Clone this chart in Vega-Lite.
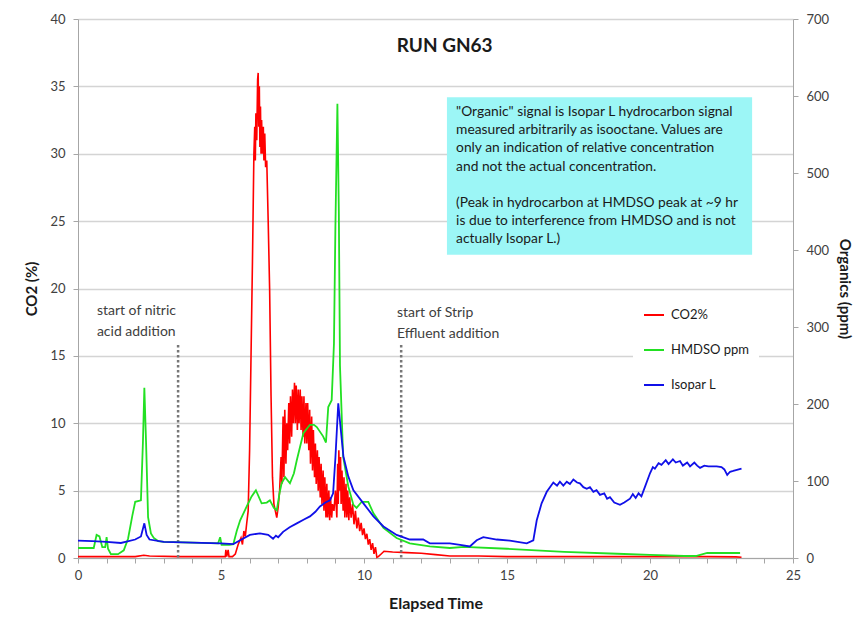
{
  "$schema": "https://vega.github.io/schema/vega-lite/v6.json",
  "width": 715,
  "height": 539,
  "autosize": {"type": "none"},
  "padding": {"left": 78, "top": 19, "right": 61, "bottom": 64},
  "background": "white",
  "config": {
    "view": {"stroke": null},
    "font": "Lato",
    "axis": {"labelFont": "Lato", "titleFont": "Lato", "labelColor": "#404040", "titleColor": "#1a1a1a", "domainColor": "#a6a6a6", "tickColor": "#a6a6a6", "labelFontSize": 13, "titleFontSize": 15, "titleFontWeight": "bold"},
    "axisX": {"labelOverlap": false, "labelFlush": false, "grid": false, "tickSize": 5, "labelPadding": 6, "titlePadding": 13, "titleFontSize": 16}
  },
  "datasets": {
    "one": [{}],
    "series": [
      {"s":"CO2%","t":0,"v":0.1},{"s":"CO2%","t":1.0,"v":0.1},{"s":"CO2%","t":2.0,"v":0.1},{"s":"CO2%","t":2.3,"v":0.2},{"s":"CO2%","t":2.5,"v":0.15},{"s":"CO2%","t":3.5,"v":0.1},{"s":"CO2%","t":5.0,"v":0.1},{"s":"CO2%","t":5.15,"v":0.1},{"s":"CO2%","t":5.17,"v":0.6},{"s":"CO2%","t":5.2,"v":0.1},{"s":"CO2%","t":5.25,"v":0.6},{"s":"CO2%","t":5.28,"v":0.1},{"s":"CO2%","t":5.4,"v":0.1},{"s":"CO2%","t":5.5,"v":0.3},{"s":"CO2%","t":5.6,"v":1.0},{"s":"CO2%","t":5.7,"v":1.5},{"s":"CO2%","t":5.75,"v":1.0},{"s":"CO2%","t":5.8,"v":2.0},{"s":"CO2%","t":5.85,"v":1.6},{"s":"CO2%","t":5.9,"v":2.6},{"s":"CO2%","t":5.95,"v":3.5},{"s":"CO2%","t":6.0,"v":8},{"s":"CO2%","t":6.05,"v":15},{"s":"CO2%","t":6.1,"v":22},{"s":"CO2%","t":6.15,"v":30},{"s":"CO2%","t":6.18,"v":32},{"s":"CO2%","t":6.2,"v":29.5},{"s":"CO2%","t":6.22,"v":33},{"s":"CO2%","t":6.25,"v":31},{"s":"CO2%","t":6.28,"v":35.5},{"s":"CO2%","t":6.3,"v":36},{"s":"CO2%","t":6.32,"v":32},{"s":"CO2%","t":6.34,"v":35},{"s":"CO2%","t":6.36,"v":30.5},{"s":"CO2%","t":6.38,"v":33.5},{"s":"CO2%","t":6.4,"v":30},{"s":"CO2%","t":6.42,"v":32.5},{"s":"CO2%","t":6.45,"v":30},{"s":"CO2%","t":6.48,"v":32},{"s":"CO2%","t":6.5,"v":29.5},{"s":"CO2%","t":6.53,"v":31.5},{"s":"CO2%","t":6.56,"v":29},{"s":"CO2%","t":6.6,"v":29.5},{"s":"CO2%","t":6.65,"v":25},{"s":"CO2%","t":6.7,"v":20},{"s":"CO2%","t":6.75,"v":12},{"s":"CO2%","t":6.8,"v":6},{"s":"CO2%","t":6.85,"v":4},{"s":"CO2%","t":6.9,"v":3.5},{"s":"CO2%","t":6.95,"v":3.0},{"s":"CO2%","t":7.0,"v":3.8},{"s":"CO2%","t":7.05,"v":5},{"s":"CO2%","t":7.1,"v":7.5},{"s":"CO2%","t":7.13,"v":5.5},{"s":"CO2%","t":7.17,"v":10.5},{"s":"CO2%","t":7.2,"v":6},{"s":"CO2%","t":7.23,"v":11},{"s":"CO2%","t":7.27,"v":7},{"s":"CO2%","t":7.3,"v":10},{"s":"CO2%","t":7.33,"v":8},{"s":"CO2%","t":7.37,"v":11.5},{"s":"CO2%","t":7.4,"v":8.5},{"s":"CO2%","t":7.43,"v":12},{"s":"CO2%","t":7.47,"v":9},{"s":"CO2%","t":7.5,"v":12.5},{"s":"CO2%","t":7.53,"v":10},{"s":"CO2%","t":7.57,"v":13},{"s":"CO2%","t":7.6,"v":10},{"s":"CO2%","t":7.63,"v":12.8},{"s":"CO2%","t":7.67,"v":9.5},{"s":"CO2%","t":7.7,"v":12.5},{"s":"CO2%","t":7.73,"v":10},{"s":"CO2%","t":7.77,"v":12.5},{"s":"CO2%","t":7.8,"v":9.5},{"s":"CO2%","t":7.83,"v":12},{"s":"CO2%","t":7.87,"v":9},{"s":"CO2%","t":7.9,"v":12},{"s":"CO2%","t":7.93,"v":8.5},{"s":"CO2%","t":7.97,"v":11.5},{"s":"CO2%","t":8.0,"v":8.5},{"s":"CO2%","t":8.03,"v":11.5},{"s":"CO2%","t":8.07,"v":8},{"s":"CO2%","t":8.1,"v":11},{"s":"CO2%","t":8.13,"v":7},{"s":"CO2%","t":8.17,"v":10.5},{"s":"CO2%","t":8.2,"v":6.5},{"s":"CO2%","t":8.23,"v":9.5},{"s":"CO2%","t":8.27,"v":6},{"s":"CO2%","t":8.3,"v":8.5},{"s":"CO2%","t":8.33,"v":5.5},{"s":"CO2%","t":8.37,"v":8},{"s":"CO2%","t":8.4,"v":5},{"s":"CO2%","t":8.43,"v":7.5},{"s":"CO2%","t":8.47,"v":4.5},{"s":"CO2%","t":8.5,"v":7},{"s":"CO2%","t":8.53,"v":4},{"s":"CO2%","t":8.57,"v":6.5},{"s":"CO2%","t":8.6,"v":3.5},{"s":"CO2%","t":8.63,"v":6},{"s":"CO2%","t":8.67,"v":3},{"s":"CO2%","t":8.7,"v":5.5},{"s":"CO2%","t":8.73,"v":3},{"s":"CO2%","t":8.77,"v":5},{"s":"CO2%","t":8.8,"v":2.8},{"s":"CO2%","t":8.83,"v":4.5},{"s":"CO2%","t":8.87,"v":3},{"s":"CO2%","t":8.9,"v":4},{"s":"CO2%","t":8.95,"v":3.5},{"s":"CO2%","t":9.0,"v":5},{"s":"CO2%","t":9.05,"v":3},{"s":"CO2%","t":9.08,"v":7},{"s":"CO2%","t":9.1,"v":4},{"s":"CO2%","t":9.12,"v":8},{"s":"CO2%","t":9.15,"v":5},{"s":"CO2%","t":9.18,"v":7.5},{"s":"CO2%","t":9.2,"v":4},{"s":"CO2%","t":9.23,"v":6.5},{"s":"CO2%","t":9.27,"v":3.5},{"s":"CO2%","t":9.3,"v":6},{"s":"CO2%","t":9.33,"v":3},{"s":"CO2%","t":9.37,"v":5.5},{"s":"CO2%","t":9.4,"v":3},{"s":"CO2%","t":9.43,"v":5},{"s":"CO2%","t":9.47,"v":2.8},{"s":"CO2%","t":9.5,"v":4.5},{"s":"CO2%","t":9.55,"v":3},{"s":"CO2%","t":9.6,"v":4},{"s":"CO2%","t":9.65,"v":2.5},{"s":"CO2%","t":9.7,"v":3.5},{"s":"CO2%","t":9.75,"v":2.2},{"s":"CO2%","t":9.8,"v":3},{"s":"CO2%","t":9.85,"v":2},{"s":"CO2%","t":9.9,"v":2.6},{"s":"CO2%","t":9.95,"v":1.7},{"s":"CO2%","t":10.0,"v":2.2},{"s":"CO2%","t":10.05,"v":1.4},{"s":"CO2%","t":10.1,"v":1.8},{"s":"CO2%","t":10.15,"v":1.0},{"s":"CO2%","t":10.2,"v":1.4},{"s":"CO2%","t":10.25,"v":0.6},{"s":"CO2%","t":10.3,"v":1.1},{"s":"CO2%","t":10.35,"v":0.3},{"s":"CO2%","t":10.4,"v":0.8},{"s":"CO2%","t":10.45,"v":0.05},{"s":"CO2%","t":10.5,"v":0.1},{"s":"CO2%","t":10.6,"v":0.3},{"s":"CO2%","t":10.7,"v":0.5},{"s":"CO2%","t":11.0,"v":0.45},{"s":"CO2%","t":11.5,"v":0.4},{"s":"CO2%","t":12.0,"v":0.35},{"s":"CO2%","t":12.5,"v":0.25},{"s":"CO2%","t":13.0,"v":0.15},{"s":"CO2%","t":14.0,"v":0.15},{"s":"CO2%","t":15.0,"v":0.1},{"s":"CO2%","t":17.0,"v":0.1},{"s":"CO2%","t":20.0,"v":0.1},{"s":"CO2%","t":22.0,"v":0.1},{"s":"CO2%","t":23.0,"v":0.08},{"s":"CO2%","t":23.2,"v":0.05},
      {"s":"HMDSO ppm","t":0,"v":13},{"s":"HMDSO ppm","t":0.55,"v":13},{"s":"HMDSO ppm","t":0.65,"v":30},{"s":"HMDSO ppm","t":0.75,"v":28},{"s":"HMDSO ppm","t":0.85,"v":14},{"s":"HMDSO ppm","t":0.95,"v":14},{"s":"HMDSO ppm","t":1.0,"v":27},{"s":"HMDSO ppm","t":1.05,"v":12},{"s":"HMDSO ppm","t":1.15,"v":5},{"s":"HMDSO ppm","t":1.4,"v":5},{"s":"HMDSO ppm","t":1.6,"v":10},{"s":"HMDSO ppm","t":1.75,"v":25},{"s":"HMDSO ppm","t":1.9,"v":55},{"s":"HMDSO ppm","t":2.0,"v":73},{"s":"HMDSO ppm","t":2.2,"v":75},{"s":"HMDSO ppm","t":2.27,"v":150},{"s":"HMDSO ppm","t":2.32,"v":221},{"s":"HMDSO ppm","t":2.38,"v":150},{"s":"HMDSO ppm","t":2.45,"v":53},{"s":"HMDSO ppm","t":2.55,"v":32},{"s":"HMDSO ppm","t":2.65,"v":26},{"s":"HMDSO ppm","t":2.8,"v":22},{"s":"HMDSO ppm","t":3.0,"v":21},{"s":"HMDSO ppm","t":4.0,"v":20},{"s":"HMDSO ppm","t":4.9,"v":19},{"s":"HMDSO ppm","t":4.97,"v":27},{"s":"HMDSO ppm","t":5.02,"v":17},{"s":"HMDSO ppm","t":5.3,"v":17},{"s":"HMDSO ppm","t":5.43,"v":18},{"s":"HMDSO ppm","t":5.55,"v":35},{"s":"HMDSO ppm","t":5.67,"v":49},{"s":"HMDSO ppm","t":5.9,"v":67},{"s":"HMDSO ppm","t":6.07,"v":80},{"s":"HMDSO ppm","t":6.22,"v":88},{"s":"HMDSO ppm","t":6.42,"v":71},{"s":"HMDSO ppm","t":6.6,"v":72},{"s":"HMDSO ppm","t":6.71,"v":75},{"s":"HMDSO ppm","t":6.85,"v":65},{"s":"HMDSO ppm","t":6.95,"v":62},{"s":"HMDSO ppm","t":7.05,"v":85},{"s":"HMDSO ppm","t":7.12,"v":97},{"s":"HMDSO ppm","t":7.24,"v":105},{"s":"HMDSO ppm","t":7.41,"v":97},{"s":"HMDSO ppm","t":7.55,"v":110},{"s":"HMDSO ppm","t":7.65,"v":127},{"s":"HMDSO ppm","t":7.88,"v":162},{"s":"HMDSO ppm","t":8.11,"v":173},{"s":"HMDSO ppm","t":8.25,"v":173},{"s":"HMDSO ppm","t":8.35,"v":170},{"s":"HMDSO ppm","t":8.57,"v":158},{"s":"HMDSO ppm","t":8.67,"v":150},{"s":"HMDSO ppm","t":8.75,"v":196},{"s":"HMDSO ppm","t":8.87,"v":205},{"s":"HMDSO ppm","t":8.95,"v":279},{"s":"HMDSO ppm","t":9.0,"v":430},{"s":"HMDSO ppm","t":9.07,"v":590},{"s":"HMDSO ppm","t":9.12,"v":450},{"s":"HMDSO ppm","t":9.16,"v":250},{"s":"HMDSO ppm","t":9.27,"v":132},{"s":"HMDSO ppm","t":9.45,"v":93},{"s":"HMDSO ppm","t":9.63,"v":69},{"s":"HMDSO ppm","t":9.74,"v":65},{"s":"HMDSO ppm","t":9.92,"v":73},{"s":"HMDSO ppm","t":10.15,"v":73},{"s":"HMDSO ppm","t":10.33,"v":58},{"s":"HMDSO ppm","t":10.68,"v":39},{"s":"HMDSO ppm","t":11.14,"v":26},{"s":"HMDSO ppm","t":11.6,"v":19},{"s":"HMDSO ppm","t":12.3,"v":15},{"s":"HMDSO ppm","t":13.0,"v":13},{"s":"HMDSO ppm","t":13.5,"v":14.5},{"s":"HMDSO ppm","t":15.0,"v":12},{"s":"HMDSO ppm","t":17.0,"v":8},{"s":"HMDSO ppm","t":18.85,"v":5.5},{"s":"HMDSO ppm","t":20.0,"v":4},{"s":"HMDSO ppm","t":21.2,"v":2.6},{"s":"HMDSO ppm","t":21.6,"v":2.6},{"s":"HMDSO ppm","t":22.0,"v":6.5},{"s":"HMDSO ppm","t":23.15,"v":6.5},
      {"s":"Isopar L","t":0,"v":22.5},{"s":"Isopar L","t":0.5,"v":22},{"s":"Isopar L","t":1.0,"v":21},{"s":"Isopar L","t":1.5,"v":19.5},{"s":"Isopar L","t":2.0,"v":24},{"s":"Isopar L","t":2.2,"v":28},{"s":"Isopar L","t":2.32,"v":45},{"s":"Isopar L","t":2.4,"v":30},{"s":"Isopar L","t":2.5,"v":24},{"s":"Isopar L","t":3.0,"v":21},{"s":"Isopar L","t":4.0,"v":20},{"s":"Isopar L","t":5.0,"v":19},{"s":"Isopar L","t":5.43,"v":18},{"s":"Isopar L","t":5.67,"v":23},{"s":"Isopar L","t":6.01,"v":30},{"s":"Isopar L","t":6.36,"v":32},{"s":"Isopar L","t":6.65,"v":30},{"s":"Isopar L","t":6.82,"v":25},{"s":"Isopar L","t":6.92,"v":29},{"s":"Isopar L","t":7.0,"v":27},{"s":"Isopar L","t":7.17,"v":34},{"s":"Isopar L","t":7.4,"v":40},{"s":"Isopar L","t":7.65,"v":45},{"s":"Isopar L","t":7.9,"v":50},{"s":"Isopar L","t":8.11,"v":54},{"s":"Isopar L","t":8.3,"v":60},{"s":"Isopar L","t":8.46,"v":67},{"s":"Isopar L","t":8.65,"v":72},{"s":"Isopar L","t":8.81,"v":75},{"s":"Isopar L","t":8.92,"v":84},{"s":"Isopar L","t":9.0,"v":130},{"s":"Isopar L","t":9.1,"v":201},{"s":"Isopar L","t":9.18,"v":170},{"s":"Isopar L","t":9.28,"v":132},{"s":"Isopar L","t":9.45,"v":106},{"s":"Isopar L","t":9.63,"v":88},{"s":"Isopar L","t":9.98,"v":71},{"s":"Isopar L","t":10.33,"v":54},{"s":"Isopar L","t":10.68,"v":41},{"s":"Isopar L","t":11.14,"v":30},{"s":"Isopar L","t":11.6,"v":24},{"s":"Isopar L","t":12.07,"v":24},{"s":"Isopar L","t":12.3,"v":19},{"s":"Isopar L","t":13.0,"v":19},{"s":"Isopar L","t":13.36,"v":17},{"s":"Isopar L","t":13.7,"v":15},{"s":"Isopar L","t":13.94,"v":23},{"s":"Isopar L","t":14.17,"v":27},{"s":"Isopar L","t":14.64,"v":24},{"s":"Isopar L","t":15.1,"v":22.5},{"s":"Isopar L","t":15.69,"v":19},{"s":"Isopar L","t":15.92,"v":23},{"s":"Isopar L","t":16.04,"v":49},{"s":"Isopar L","t":16.21,"v":71},{"s":"Isopar L","t":16.39,"v":86},{"s":"Isopar L","t":16.62,"v":98},{"s":"Isopar L","t":16.75,"v":94},{"s":"Isopar L","t":16.85,"v":99},{"s":"Isopar L","t":16.97,"v":94},{"s":"Isopar L","t":17.09,"v":99},{"s":"Isopar L","t":17.2,"v":96},{"s":"Isopar L","t":17.32,"v":102},{"s":"Isopar L","t":17.45,"v":98},{"s":"Isopar L","t":17.55,"v":97},{"s":"Isopar L","t":17.67,"v":92},{"s":"Isopar L","t":17.79,"v":90},{"s":"Isopar L","t":17.9,"v":92},{"s":"Isopar L","t":18.02,"v":86},{"s":"Isopar L","t":18.13,"v":88},{"s":"Isopar L","t":18.25,"v":82},{"s":"Isopar L","t":18.4,"v":84},{"s":"Isopar L","t":18.5,"v":77},{"s":"Isopar L","t":18.6,"v":79},{"s":"Isopar L","t":18.75,"v":72},{"s":"Isopar L","t":18.95,"v":69},{"s":"Isopar L","t":19.1,"v":72},{"s":"Isopar L","t":19.3,"v":77},{"s":"Isopar L","t":19.4,"v":83},{"s":"Isopar L","t":19.5,"v":78},{"s":"Isopar L","t":19.6,"v":84},{"s":"Isopar L","t":19.7,"v":80},{"s":"Isopar L","t":19.83,"v":93},{"s":"Isopar L","t":20.0,"v":110},{"s":"Isopar L","t":20.1,"v":118},{"s":"Isopar L","t":20.17,"v":116},{"s":"Isopar L","t":20.3,"v":123},{"s":"Isopar L","t":20.4,"v":121},{"s":"Isopar L","t":20.55,"v":127},{"s":"Isopar L","t":20.65,"v":122},{"s":"Isopar L","t":20.8,"v":128},{"s":"Isopar L","t":20.9,"v":124},{"s":"Isopar L","t":21.05,"v":126},{"s":"Isopar L","t":21.15,"v":120},{"s":"Isopar L","t":21.3,"v":124},{"s":"Isopar L","t":21.4,"v":119},{"s":"Isopar L","t":21.55,"v":124},{"s":"Isopar L","t":21.65,"v":120},{"s":"Isopar L","t":21.75,"v":117},{"s":"Isopar L","t":21.9,"v":120},{"s":"Isopar L","t":22.04,"v":119},{"s":"Isopar L","t":22.33,"v":119},{"s":"Isopar L","t":22.5,"v":118},{"s":"Isopar L","t":22.6,"v":115},{"s":"Isopar L","t":22.7,"v":108},{"s":"Isopar L","t":22.8,"v":112},{"s":"Isopar L","t":22.91,"v":113},{"s":"Isopar L","t":23.2,"v":116}
    ]
  },
  "layer": [
    {
      "data": {"name": "series"},
      "transform": [{"filter": "datum.s === 'CO2%'"}],
      "mark": {"type": "line", "strokeWidth": 1.6},
      "encoding": {
        "x": {"field": "t", "type": "quantitative", "scale": {"domain": [0, 25], "nice": false},
          "axis": {"title": "Elapsed Time", "values": [0,1,2,3,4,5,6,7,8,9,10,11,12,13,14,15,16,17,18,19,20,21,22,23,24,25], "labelExpr": "datum.value % 5 === 0 ? datum.label : ''"}},
        "y": {"field": "v", "type": "quantitative", "scale": {"domain": [0, 40], "nice": false},
          "axis": {"title": "CO2 (%)", "values": [0,5,10,15,20,25,30,35,40], "grid": true, "gridColor": "#d4d4d4", "gridWidth": 1.5, "tickSize": 5, "labelPadding": 8, "titlePadding": 10}},
        "color": {"field": "s", "type": "nominal", "scale": {"domain": ["CO2%", "HMDSO ppm", "Isopar L"], "range": ["#ff0000", "#22e022", "#1010e8"]},
          "legend": {"title": null, "orient": "none", "legendX": 555, "legendY": 275, "fillColor": "white", "padding": 10, "symbolType": "stroke", "symbolSize": 400, "symbolStrokeWidth": 2, "labelFont": "Lato", "labelFontSize": 13, "labelColor": "#1a1a1a", "labelOffset": 6, "rowPadding": 17}}
      }
    },
    {
      "data": {"name": "one"},
      "mark": {"type": "rule", "strokeDash": [2.5, 2.5], "strokeWidth": 2.5, "color": "#777777"},
      "encoding": {
        "x": {"datum": 3.5, "type": "quantitative", "axis": {"title": "Elapsed Time", "values": [0,1,2,3,4,5,6,7,8,9,10,11,12,13,14,15,16,17,18,19,20,21,22,23,24,25], "labelExpr": "datum.value % 5 === 0 ? datum.label : ''"}},
        "y": {"datum": 15.8, "type": "quantitative", "scale": {"domain": [0, 40], "nice": false}, "axis": null},
        "y2": {"datum": 0}
      }
    },
    {
      "data": {"name": "one"},
      "mark": {"type": "rule", "strokeDash": [2.5, 2.5], "strokeWidth": 2.5, "color": "#777777"},
      "encoding": {
        "x": {"datum": 11.3, "type": "quantitative", "axis": {"title": "Elapsed Time", "values": [0,1,2,3,4,5,6,7,8,9,10,11,12,13,14,15,16,17,18,19,20,21,22,23,24,25], "labelExpr": "datum.value % 5 === 0 ? datum.label : ''"}},
        "y": {"datum": 15.8, "type": "quantitative", "scale": {"domain": [0, 40], "nice": false}, "axis": null},
        "y2": {"datum": 0}
      }
    },
    {
      "data": {"name": "one"},
      "mark": {"type": "text", "text": ["start of nitric", "acid addition"], "align": "left", "baseline": "middle", "fontSize": 14, "lineHeight": 21, "color": "#404040", "font": "Lato"},
      "encoding": {
        "x": {"datum": 0.66, "type": "quantitative", "axis": {"title": "Elapsed Time", "values": [0,1,2,3,4,5,6,7,8,9,10,11,12,13,14,15,16,17,18,19,20,21,22,23,24,25], "labelExpr": "datum.value % 5 === 0 ? datum.label : ''"}},
        "y": {"datum": 18.3, "type": "quantitative", "scale": {"domain": [0, 40], "nice": false}, "axis": null}
      }
    },
    {
      "data": {"name": "one"},
      "mark": {"type": "text", "text": ["start of Strip", "Effluent addition"], "align": "left", "baseline": "middle", "fontSize": 14, "lineHeight": 21, "color": "#404040", "font": "Lato"},
      "encoding": {
        "x": {"datum": 11.15, "type": "quantitative", "axis": {"title": "Elapsed Time", "values": [0,1,2,3,4,5,6,7,8,9,10,11,12,13,14,15,16,17,18,19,20,21,22,23,24,25], "labelExpr": "datum.value % 5 === 0 ? datum.label : ''"}},
        "y": {"datum": 18.2, "type": "quantitative", "scale": {"domain": [0, 40], "nice": false}, "axis": null}
      }
    },
    {
      "data": {"name": "one"},
      "mark": {"type": "rect", "color": "#9cf6f6"},
      "encoding": {
        "x": {"datum": 12.9, "type": "quantitative", "axis": {"title": "Elapsed Time", "values": [0,1,2,3,4,5,6,7,8,9,10,11,12,13,14,15,16,17,18,19,20,21,22,23,24,25], "labelExpr": "datum.value % 5 === 0 ? datum.label : ''"}},
        "x2": {"datum": 23.57},
        "y": {"datum": 34.2, "type": "quantitative", "scale": {"domain": [0, 40], "nice": false}, "axis": null},
        "y2": {"datum": 22.5}
      }
    },
    {
      "data": {"name": "one"},
      "mark": {"type": "text", "text": ["\"Organic\" signal is Isopar L hydrocarbon signal", "measured arbitrarily as isooctane. Values are", "only an indication of relative concentration", "and not the actual concentration."], "align": "left", "baseline": "middle", "fontSize": 13.8, "lineHeight": 18.2, "color": "#1a1a1a", "font": "Lato"},
      "encoding": {
        "x": {"datum": 13.22, "type": "quantitative", "axis": {"title": "Elapsed Time", "values": [0,1,2,3,4,5,6,7,8,9,10,11,12,13,14,15,16,17,18,19,20,21,22,23,24,25], "labelExpr": "datum.value % 5 === 0 ? datum.label : ''"}},
        "y": {"datum": 33.1, "type": "quantitative", "scale": {"domain": [0, 40], "nice": false}, "axis": null}
      }
    },
    {
      "data": {"name": "one"},
      "mark": {"type": "text", "text": ["(Peak in hydrocarbon at HMDSO peak at ~9 hr", "is due to interference from HMDSO and is not", "actually Isopar L.)"], "align": "left", "baseline": "middle", "fontSize": 13.8, "lineHeight": 18.2, "color": "#1a1a1a", "font": "Lato"},
      "encoding": {
        "x": {"datum": 13.22, "type": "quantitative", "axis": {"title": "Elapsed Time", "values": [0,1,2,3,4,5,6,7,8,9,10,11,12,13,14,15,16,17,18,19,20,21,22,23,24,25], "labelExpr": "datum.value % 5 === 0 ? datum.label : ''"}},
        "y": {"datum": 26.35, "type": "quantitative", "scale": {"domain": [0, 40], "nice": false}, "axis": null}
      }
    },
    {
      "data": {"name": "one"},
      "mark": {"type": "text", "text": "RUN GN63", "align": "center", "baseline": "middle", "fontSize": 19, "fontWeight": "bold", "color": "#1a1a1a", "font": "Lato"},
      "encoding": {
        "x": {"datum": 12.82, "type": "quantitative", "axis": {"title": "Elapsed Time", "values": [0,1,2,3,4,5,6,7,8,9,10,11,12,13,14,15,16,17,18,19,20,21,22,23,24,25], "labelExpr": "datum.value % 5 === 0 ? datum.label : ''"}},
        "y": {"datum": 38.0, "type": "quantitative", "scale": {"domain": [0, 40], "nice": false}, "axis": null}
      }
    },
    {
      "data": {"name": "series"},
      "transform": [{"filter": "datum.s !== 'CO2%'"}],
      "mark": {"type": "line", "strokeWidth": 1.8},
      "encoding": {
        "x": {"field": "t", "type": "quantitative", "axis": {"title": "Elapsed Time", "values": [0,1,2,3,4,5,6,7,8,9,10,11,12,13,14,15,16,17,18,19,20,21,22,23,24,25], "labelExpr": "datum.value % 5 === 0 ? datum.label : ''"}},
        "y": {"field": "v", "type": "quantitative", "scale": {"domain": [0, 700], "nice": false},
          "axis": {"title": "Organics (ppm)", "orient": "right", "values": [0,100,200,300,400,500,600,700], "grid": false, "tickSize": 5, "labelPadding": 8, "titlePadding": 8}},
        "color": {"field": "s", "type": "nominal"}
      }
    }
  ],
  "resolve": {"scale": {"y": "independent"}, "axis": {"y": "independent"}}
}
